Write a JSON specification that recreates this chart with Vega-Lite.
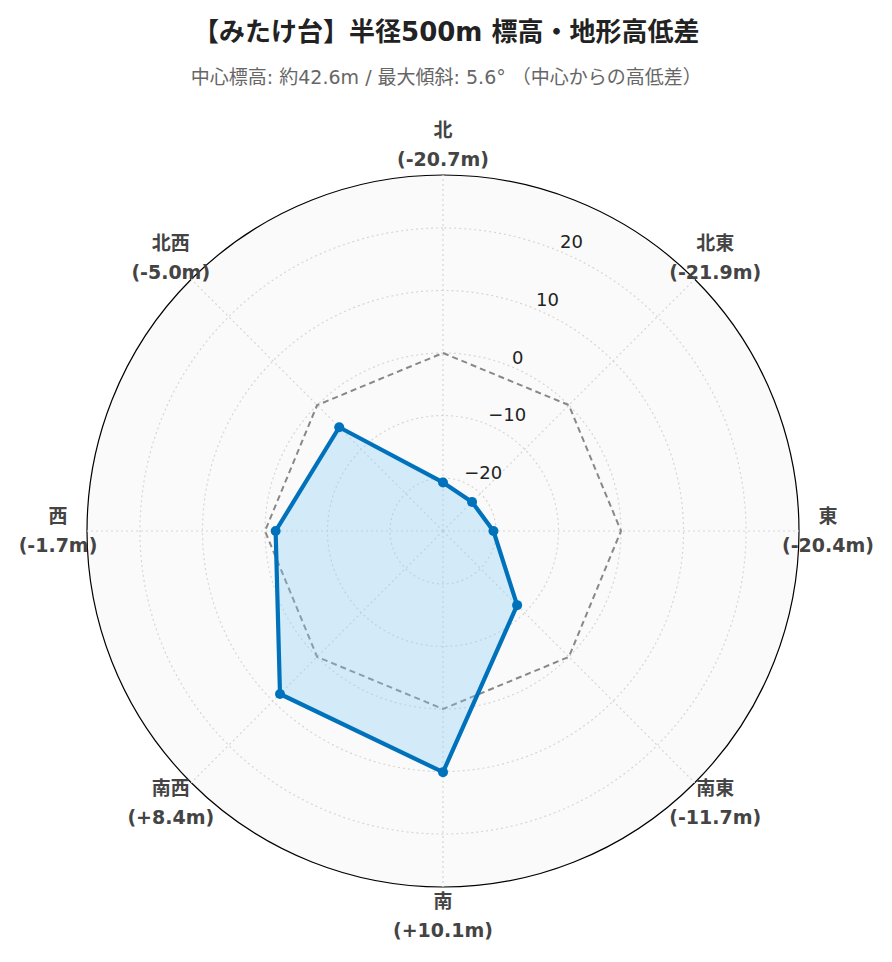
{
  "$schema": "https://vega.github.io/schema/vega-lite/v6.json",
  "width": 712,
  "height": 712,
  "autosize": "none",
  "padding": {"left": 87, "top": 175, "right": 93, "bottom": 75},
  "background": "white",
  "title": {
    "text": "【みたけ台】半径500m 標高・地形高低差",
    "subtitle": "中心標高: 約42.6m / 最大傾斜: 5.6° （中心からの高低差）",
    "anchor": "middle",
    "frame": "bounds",
    "offset": 34,
    "font": "DejaVu Sans, Noto Sans CJK JP",
    "fontSize": 26,
    "fontWeight": "bold",
    "color": "#222222",
    "subtitleFont": "DejaVu Sans, Noto Sans CJK JP",
    "subtitleFontSize": 19,
    "subtitleColor": "#666666",
    "subtitlePadding": 23
  },
  "config": {"view": {"stroke": null}},
  "datasets": {
    "dirs": [
      {"dir": "北", "angle": 0, "value": -20.7},
      {"dir": "北東", "angle": 45, "value": -21.9},
      {"dir": "東", "angle": 90, "value": -20.4},
      {"dir": "南東", "angle": 135, "value": -11.7},
      {"dir": "南", "angle": 180, "value": 10.1},
      {"dir": "南西", "angle": 225, "value": 8.4},
      {"dir": "西", "angle": 270, "value": -1.7},
      {"dir": "北西", "angle": 315, "value": -5.0}
    ],
    "ticks": [
      {"tick": -20}, {"tick": -10}, {"tick": 0}, {"tick": 10}, {"tick": 20}
    ],
    "outer": [
      {"edge": 28.47}
    ]
  },
  "layer": [
    {
      "data": {"name": "outer"},
      "transform": [{"calculate": "datum.edge + 28.47", "as": "r"}],
      "mark": {"type": "arc", "fill": "#fafafa", "stroke": "#000000", "strokeWidth": 1.2},
      "encoding": {
        "radius": {"field": "r", "type": "quantitative", "stack": null, "scale": {"type": "linear", "domain": [0, 56.94], "range": [0, 356], "zero": true, "nice": false}}
      }
    },
    {
      "data": {"name": "ticks"},
      "transform": [{"calculate": "datum.tick + 28.47", "as": "r"}],
      "mark": {"type": "arc", "filled": false, "stroke": "#d6d6d6", "strokeWidth": 1.2, "strokeDash": [2, 3]},
      "encoding": {
        "radius": {"field": "r", "type": "quantitative", "stack": null}
      }
    },
    {
      "data": {"name": "dirs"},
      "transform": [
        {"calculate": "56.94 * sin(datum.angle * PI / 180)", "as": "sx"},
        {"calculate": "56.94 * cos(datum.angle * PI / 180)", "as": "sy"},
        {"calculate": "0", "as": "c0"}
      ],
      "mark": {"type": "rule", "stroke": "#d6d6d6", "strokeWidth": 1.2, "strokeDash": [2, 3]},
      "encoding": {
        "x": {"field": "c0", "type": "quantitative", "scale": {"domain": [-56.94, 56.94], "nice": false, "zero": false}, "axis": null},
        "y": {"field": "c0", "type": "quantitative", "scale": {"domain": [-56.94, 56.94], "nice": false, "zero": false}, "axis": null},
        "x2": {"field": "sx"},
        "y2": {"field": "sy"}
      }
    },
    {
      "data": {"name": "dirs"},
      "transform": [
        {"calculate": "28.47 * sin(datum.angle * PI / 180)", "as": "ox"},
        {"calculate": "28.47 * cos(datum.angle * PI / 180)", "as": "oy"}
      ],
      "mark": {"type": "line", "interpolate": "linear-closed", "stroke": "#888888", "strokeWidth": 2, "strokeDash": [6, 4]},
      "encoding": {
        "x": {"field": "ox", "type": "quantitative"},
        "y": {"field": "oy", "type": "quantitative"},
        "order": {"field": "angle", "type": "quantitative"}
      }
    },
    {
      "data": {"name": "dirs"},
      "transform": [
        {"calculate": "(datum.value + 28.47) * sin(datum.angle * PI / 180)", "as": "px"},
        {"calculate": "(datum.value + 28.47) * cos(datum.angle * PI / 180)", "as": "py"}
      ],
      "mark": {"type": "line", "interpolate": "linear-closed", "stroke": "#0072bb", "strokeWidth": 4.2, "fill": "#87cefa", "fillOpacity": 0.33, "strokeJoin": "round"},
      "encoding": {
        "x": {"field": "px", "type": "quantitative"},
        "y": {"field": "py", "type": "quantitative"},
        "order": {"field": "angle", "type": "quantitative"}
      }
    },
    {
      "data": {"name": "dirs"},
      "transform": [
        {"calculate": "(datum.value + 28.47) * sin(datum.angle * PI / 180)", "as": "px"},
        {"calculate": "(datum.value + 28.47) * cos(datum.angle * PI / 180)", "as": "py"}
      ],
      "mark": {"type": "point", "filled": true, "color": "#0072bb", "size": 100, "opacity": 1},
      "encoding": {
        "x": {"field": "px", "type": "quantitative"},
        "y": {"field": "py", "type": "quantitative"}
      }
    },
    {
      "data": {"name": "ticks"},
      "transform": [
        {"calculate": "(datum.tick + 28.47) * sin(22.5 * PI / 180)", "as": "tx"},
        {"calculate": "(datum.tick + 28.47) * cos(22.5 * PI / 180)", "as": "ty"}
      ],
      "mark": {"type": "text", "align": "left", "baseline": "alphabetic", "dx": 1, "dy": -3, "font": "DejaVu Sans", "fontSize": 18, "color": "#222222"},
      "encoding": {
        "x": {"field": "tx", "type": "quantitative"},
        "y": {"field": "ty", "type": "quantitative"},
        "text": {"field": "tick", "type": "quantitative", "format": "d"}
      }
    },
    {
      "data": {"name": "dirs"},
      "transform": [
        {"calculate": "61.58 * sin(datum.angle * PI / 180)", "as": "lx"},
        {"calculate": "61.58 * cos(datum.angle * PI / 180)", "as": "ly"},
        {"calculate": "datum.dir + '\\n(' + (datum.value > 0 ? '+' : '-') + format(abs(datum.value), '.1f') + 'm)'", "as": "lab"}
      ],
      "mark": {"type": "text", "align": "center", "baseline": "middle", "dy": -14.5, "lineBreak": "\n", "lineHeight": 29, "font": "DejaVu Sans, Noto Sans CJK JP", "fontSize": 19, "fontWeight": "bold", "color": "#444444"},
      "encoding": {
        "x": {"field": "lx", "type": "quantitative"},
        "y": {"field": "ly", "type": "quantitative"},
        "text": {"field": "lab", "type": "nominal"}
      }
    }
  ]
}
